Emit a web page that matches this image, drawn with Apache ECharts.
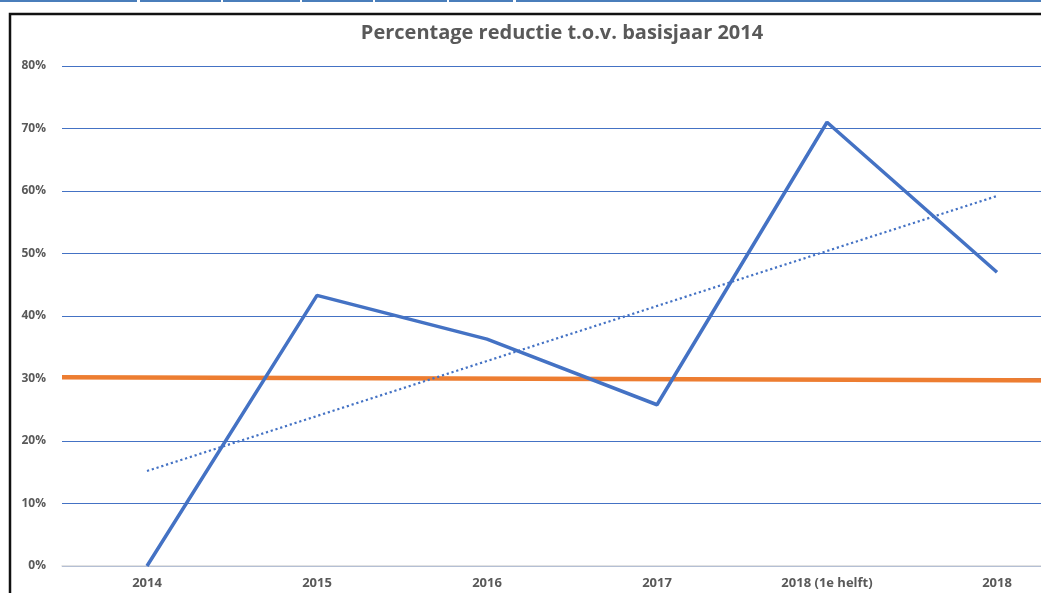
<!DOCTYPE html>
<html><head><meta charset="utf-8">
<script src="https://cdn.jsdelivr.net/npm/echarts@6/dist/echarts.min.js"></script>
<style>html,body{margin:0;padding:0;background:#fff;overflow:hidden;width:1041px;height:593px}#c{width:1090px;height:593px}</style>
</head><body><div id="c"></div>
<script>
const titleText = 'Percentage reductie t.o.v. basisjaar 2014';
const categories = ['2014', '2015', '2016', '2017', '2018 (1e helft)', '2018'];
const reductie = [0, 43.3, 36.3, 25.8, 71.0, 47.0];
const trend = [15.2, null, null, null, null, 59.2];
const doelLijn = [[0, 30.2], [6, 29.7]];
const yTicks = [0, 10, 20, 30, 40, 50, 60, 70, 80];

const chart = echarts.init(document.getElementById('c'), null, {renderer: 'canvas'});
const lblFont = {color: '#595959', fontFamily: 'Open Sans', fontWeight: 'bold'};
chart.setOption({
  animation: false,
  title: {
    text: titleText, left: 557, top: 18, textAlign: 'center',
    textStyle: {color: '#595959', fontFamily: 'Open Sans', fontWeight: 'bold', fontSize: 20}
  },
  graphic: [
    {type: 'rect', shape: {x: 10, y: 14, width: 1100, height: 700}, style: {fill: 'none', stroke: '#111', lineWidth: 2.5}, silent: true},
    {type: 'line', shape: {x1: 0, y1: 1, x2: 137, y2: 1}, style: {stroke: '#4a7ebb', lineWidth: 2}},
    {type: 'line', shape: {x1: 140, y1: 1, x2: 221, y2: 1}, style: {stroke: '#4a7ebb', lineWidth: 2}},
    {type: 'line', shape: {x1: 223, y1: 1, x2: 300, y2: 1}, style: {stroke: '#4a7ebb', lineWidth: 2}},
    {type: 'line', shape: {x1: 302, y1: 1, x2: 373, y2: 1}, style: {stroke: '#4a7ebb', lineWidth: 2}},
    {type: 'line', shape: {x1: 375, y1: 1, x2: 447, y2: 1}, style: {stroke: '#4a7ebb', lineWidth: 2}},
    {type: 'line', shape: {x1: 449, y1: 1, x2: 513, y2: 1}, style: {stroke: '#4a7ebb', lineWidth: 2}},
    {type: 'line', shape: {x1: 516, y1: 1, x2: 1090, y2: 1}, style: {stroke: '#4a7ebb', lineWidth: 2}}
  ],
  grid: {left: 62, top: 66, right: 8, bottom: 27, containLabel: false},
  xAxis: [{
    type: 'category', data: categories, boundaryGap: true,
    axisLine: {show: true, lineStyle: {color: '#d9d9d9', width: 1.5}},
    axisTick: {show: false},
    axisLabel: Object.assign({margin: 11, fontSize: 13}, lblFont),
    splitLine: {show: false}
  }, {
    type: 'value', min: 0, max: 6, show: false
  }],
  yAxis: {
    type: 'value', min: 0, max: 80, interval: 10,
    axisLine: {show: false}, axisTick: {show: false},
    axisLabel: Object.assign({margin: 16, fontSize: 12, formatter: v => yTicks.includes(v) ? v + '%' : ''}, lblFont),
    splitLine: {show: true, lineStyle: {color: '#4472c4', width: 1}}
  },
  series: [
    {
      name: 'doel', type: 'line', xAxisIndex: 1, data: doelLijn, symbol: 'none',
      lineStyle: {color: '#ed7d31', width: 4.5}, z: 3
    },
    {
      name: 'trend', type: 'line', data: trend, connectNulls: true, symbol: 'none',
      lineStyle: {color: '#4472c4', width: 2.2, type: [2.2, 2.8]}, z: 4
    },
    {
      name: 'reductie', type: 'line', data: reductie, symbol: 'none',
      lineStyle: {color: '#4472c4', width: 3.5}, z: 5
    }
  ]
});
</script></body></html>
